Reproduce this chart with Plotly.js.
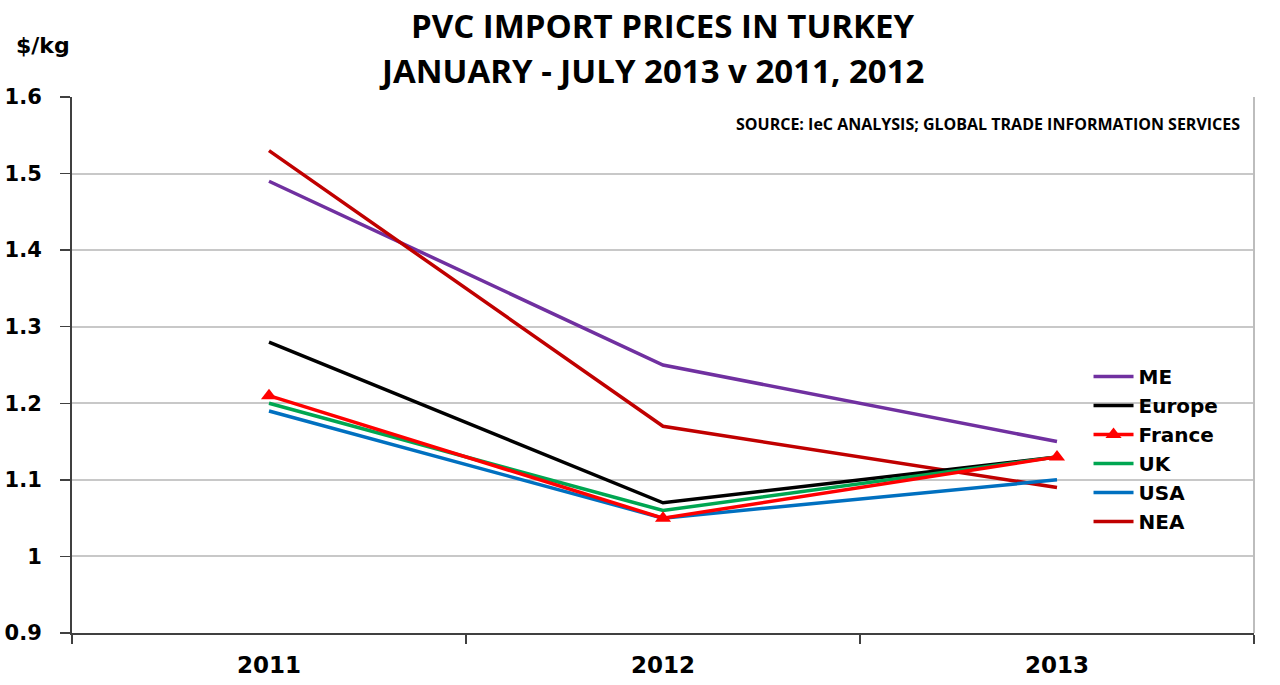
<!DOCTYPE html>
<html><head><meta charset="utf-8">
<script src="https://cdn.plot.ly/plotly-3.0.1.min.js"></script>
<style>html,body{margin:0;padding:0;background:#fff}</style>
</head><body>
<div id="chart" style="width:1280px;height:685px"></div>
<script>
const years = ["2011", "2012", "2013"];
const seriesNames = ["ME", "Europe", "France", "UK", "USA", "NEA"];
const ME = [1.49, 1.25, 1.15];
const Europe = [1.28, 1.07, 1.13];
const France = [1.21, 1.05, 1.13];
const UK = [1.20, 1.06, 1.13];
const USA = [1.19, 1.05, 1.10];
const NEA = [1.53, 1.17, 1.09];
const yTicks = [0.9, 1.0, 1.1, 1.2, 1.3, 1.4, 1.5, 1.6];
const yTickText = ["0.9", "1", "1.1", "1.2", "1.3", "1.4", "1.5", "1.6"];
const titleLines = ["PVC IMPORT PRICES IN TURKEY", "JANUARY - JULY 2013 v 2011, 2012"];

const colors = {ME:"#7030A0", Europe:"#000000", France:"#FF0000", UK:"#00A651", USA:"#0070C0", NEA:"#C00000"};
const values = {ME, Europe, France, UK, USA, NEA};
const drawOrder = ["ME", "NEA", "Europe", "USA", "UK", "France"];
const traces = drawOrder.map(n => {
  const t = {
    type: "scatter",
    mode: "lines",
    name: n,
    x: years,
    y: values[n],
    line: {color: colors[n], width: 3.5},
    legendrank: seriesNames.indexOf(n) + 1
  };
  if (n === "France") {
    t.mode = "lines+markers";
    t.marker = {symbol: "triangle-up", size: 14, color: colors[n]};
  }
  return t;
});

const boldFont = "DejaVu Sans, Verdana, sans-serif";
const layout = {
  width: 1280, height: 685,
  margin: {l: 72, r: 26, t: 97, b: 52},
  paper_bgcolor: "#fff", plot_bgcolor: "#fff",
  showlegend: true,
  legend: {
    x: 0.86, y: 0.515, xanchor: "left", yanchor: "top",
    font: {family: boldFont, size: 20, color: "#000", weight: "bold"},
    bgcolor: "rgba(255,255,255,0)", tracegroupgap: 0, itemwidth: 40,
    traceorder: "normal"
  },
  xaxis: {
    type: "category", range: [-0.5, 2.5],
    showgrid: false, showline: true, linecolor: "#404040", linewidth: 2,
    ticks: "outside", tickson: "boundaries", ticklen: 9, tickcolor: "#404040", tickwidth: 1.5,
    ticklabelstandoff: 10,
    tickfont: {family: boldFont, size: 23, color: "#000", weight: "bold"},
    fixedrange: true, zeroline: false
  },
  yaxis: {
    range: [0.9, 1.6], tickvals: yTicks, ticktext: yTickText,
    showgrid: true, gridcolor: "#c8c8c8", gridwidth: 2,
    showline: true, linecolor: "#404040", linewidth: 2,
    ticks: "outside", ticklen: 10, tickcolor: "#404040", tickwidth: 1.5,
    ticklabelstandoff: 14,
    tickfont: {family: boldFont, size: 21, color: "#000", weight: "bold"},
    zeroline: false, fixedrange: true
  },
  shapes: [
    {type: "line", xref: "paper", yref: "paper", x0: 1, x1: 1, y0: 0, y1: 1, line: {color: "#bdbdbd", width: 2}}
  ],
  annotations: [
    {text: "<b>" + titleLines[0] + "</b>", xref: "paper", yref: "paper", x: 0.5, y: 1.134, xanchor: "center", yanchor: "middle", showarrow: false,
     font: {family: "Open Sans, Lato, sans-serif", size: 33, color: "#000"}},
    {text: "<b>" + titleLines[1] + "</b>", xref: "paper", yref: "paper", x: 0.49, y: 1.050, xanchor: "center", yanchor: "middle", showarrow: false,
     font: {family: "Open Sans, Lato, sans-serif", size: 33, color: "#000"}},
    {text: "<b>$/kg</b>", xref: "paper", yref: "paper", x: -0.049, y: 1.097, xanchor: "left", yanchor: "middle", showarrow: false,
     font: {family: boldFont, size: 22, color: "#000"}},
    {text: "<b>SOURCE: IeC ANALYSIS; GLOBAL TRADE INFORMATION SERVICES</b>", xref: "paper", yref: "paper", x: 0.99, y: 0.95, xanchor: "right", yanchor: "middle", showarrow: false,
     font: {family: "Open Sans, Lato, sans-serif", size: 16, color: "#000"}}
  ]
};
Plotly.newPlot("chart", traces, layout, {displayModeBar: false, staticPlot: true});
</script>
</body></html>
